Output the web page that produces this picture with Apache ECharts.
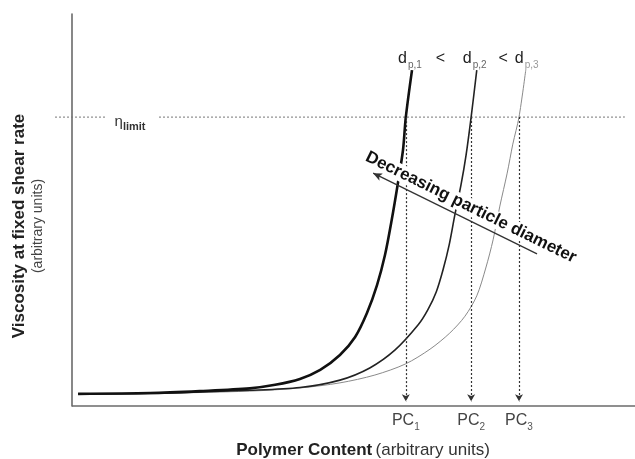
<!DOCTYPE html>
<html>
<head>
<meta charset="utf-8">
<script src="https://cdn.jsdelivr.net/npm/echarts@6/dist/echarts.min.js"></script>
<style>
  html, body { margin: 0; padding: 0; background: #fff; }
  #chart { width: 635px; height: 459px; }
</style>
</head>
<body>
<div id="chart"></div>
<script>
// Viscosity vs polymer content for three particle diameters (arbitrary units)
const curveLarge = [ // d_p,1
  [1.1, 3.1], [13.9, 3.3], [22.7, 3.8], [31.6, 4.5], [36.1, 5.4], [40.5, 6.9],
  [44.1, 9.2], [47.6, 13.0], [50.3, 17.6], [52.4, 23.7], [54.2, 30.9],
  [55.6, 38.5], [56.8, 47.5], [57.9, 56.9], [58.8, 65.3], [59.3, 73.7], [60.4, 85.7]
];
const curveMedium = [ // d_p,2
  [1.1, 3.1], [13.9, 3.2], [31.6, 4.0], [40.5, 4.7], [47.6, 6.6], [52.9, 9.7],
  [57.4, 14.3], [61.5, 20.7], [63.2, 24.5], [64.7, 29.1], [65.9, 34.7],
  [67.0, 41.1], [68.0, 48.7], [69.1, 56.4], [70.0, 64.0], [70.9, 73.7], [71.9, 85.7]
];
const curveSmall = [ // d_p,3
  [1.1, 3.1], [13.9, 3.2], [31.6, 3.8], [40.5, 4.6], [47.6, 5.9], [53.8, 7.9],
  [59.2, 10.7], [63.6, 14.5], [67.1, 18.6], [69.8, 22.9], [71.9, 28.1],
  [73.5, 35.2], [74.8, 42.4], [76.0, 51.0], [77.3, 59.4], [78.3, 66.8],
  [79.4, 73.7], [80.6, 85.7]
];
const limitValue = 73.7;
const limitSpan = [-3, 98.2];
const pcValues = [59.3, 70.9, 79.4];
const pcSubs = ['1', '2', '3'];
const curveSubs = ['p,1', 'p,2', 'p,3'];
const trendArrow = [[82.6, 38.8], [53.5, 59.4]];
const axisSpan = [0, 100];

const FONT = "'Liberation Sans', Arial, sans-serif";
const AXIS_COLOR = '#6a6a6a';

function curveSeries(data, width, color, sub, gap, labelOffset, subColor) {
  return {
    type: 'line',
    data: data,
    smooth: 0.3,
    showSymbol: false,
    silent: true,
    z: 3,
    lineStyle: { width: width, color: color },
    markPoint: {
      symbol: 'circle',
      symbolSize: 0,
      silent: true,
      data: [{ coord: data[data.length - 1] }],
      label: {
        show: true,
        position: 'top',
        distance: 3,
        align: 'left',
        offset: labelOffset,
        fontFamily: FONT,
        formatter: '{d|d}{s|' + sub + '}' + (gap ? '{lt|<}' : ''),
        rich: {
          d: { fontSize: 16, color: '#222', fontFamily: FONT, lineHeight: 18, verticalAlign: 'bottom' },
          s: { fontSize: 10, color: subColor, fontFamily: FONT, lineHeight: 10, verticalAlign: 'bottom', padding: [0, 0, -3, 1] },
          lt: { fontSize: 16, color: '#222', fontFamily: FONT, lineHeight: 18, verticalAlign: 'bottom', padding: [0, 0, 0, gap] }
        }
      }
    }
  };
}

const pcLines = pcValues.map(v => [
  { coord: [v, limitValue], symbol: 'none' },
  { coord: [v, 1.2], symbol: 'arrow', symbolSize: [6, 7] }
]);

const option = {
  animation: false,
  backgroundColor: '#fff',
  grid: { left: 55, right: 0, top: 14, bottom: 53, outerBoundsMode: 'none', containLabel: false },
  xAxis: {
    type: 'value',
    min: -3,
    max: 100,
    splitLine: { show: false },
    axisTick: { show: false },
    axisLine: { show: false },
    axisLabel: {
      customValues: pcValues,
      margin: 4,
      formatter: function (v) {
        const i = pcValues.indexOf(v);
        return i < 0 ? '' : '{p|PC}{s|' + pcSubs[i] + '}';
      },
      rich: {
        p: { fontSize: 16, color: '#444', fontFamily: FONT, lineHeight: 19, verticalAlign: 'bottom' },
        s: { fontSize: 10, color: '#555', fontFamily: FONT, lineHeight: 10, verticalAlign: 'bottom', padding: [0, 0, -3, 0] }
      }
    },
    name: '{b|Polymer Content} {r|(arbitrary units)}',
    nameLocation: 'middle',
    nameGap: 36,
    nameTextStyle: {
      padding: [0, 0, 0, 36],
      rich: {
        b: { fontSize: 17, fontWeight: 'bold', color: '#222', fontFamily: FONT },
        r: { fontSize: 17, color: '#333', fontFamily: FONT }
      }
    }
  },
  yAxis: {
    type: 'value',
    min: 0,
    max: 100,
    splitLine: { show: false },
    axisTick: { show: false },
    axisLabel: { show: false },
    axisLine: { onZero: true, lineStyle: { color: AXIS_COLOR, width: 1.6 } },
    name: '{a|Viscosity at fixed shear rate}\n{b|(arbitrary units)}',
    nameLocation: 'middle',
    nameRotate: 90,
    nameGap: 8,
    nameTextStyle: {
      padding: [0, 32, 0, 0],
      rich: {
        a: { fontSize: 17, fontWeight: 'bold', color: '#222', fontFamily: FONT, lineHeight: 20, align: 'center' },
        b: { fontSize: 14, color: '#444', fontFamily: FONT, lineHeight: 18, align: 'center' }
      }
    }
  },
  series: [
    curveSeries(curveSmall, 1, '#8a8a8a', curveSubs[2], 0, [-11, 0], '#999'),
    curveSeries(curveMedium, 1.6, '#222', curveSubs[1], 12, [-14, 0], '#666'),
    curveSeries(curveLarge, 2.6, '#111', curveSubs[0], 14, [-14, 0], '#666'),
    {
      // viscosity limit, x-axis baseline, PC markers and trend arrow
      type: 'line',
      data: limitSpan.map(x => [x, limitValue]),
      showSymbol: false,
      silent: true,
      z: 2,
      lineStyle: { width: 1, color: '#777', type: [2, 2] },
      markPoint: {
        silent: true,
        symbol: 'rect',
        symbolSize: [52, 6],
        itemStyle: { color: '#fff' },
        data: [{ coord: [10.5, limitValue] }],
        label: {
          show: true,
          position: 'inside',
          offset: [-1, 4],
          formatter: '{e|η}{l|limit}',
          rich: {
            e: { fontSize: 15, color: '#333', fontFamily: FONT, lineHeight: 16, verticalAlign: 'bottom' },
            l: { fontSize: 11, fontWeight: 'bold', color: '#333', fontFamily: FONT, lineHeight: 10, verticalAlign: 'bottom', padding: [0, 0, -3, 0] }
          }
        }
      },
      markLine: {
        silent: true,
        z: 6,
        symbol: ['none', 'arrow'],
        label: { show: false },
        lineStyle: { color: '#333', width: 1.2, type: [2, 2] },
        data: pcLines.concat([
          [
            { coord: [axisSpan[0], 0], symbol: 'none', lineStyle: { type: 'solid', width: 1.6, color: AXIS_COLOR } },
            { coord: [axisSpan[1], 0], symbol: 'none' }
          ],
          [
            {
              coord: trendArrow[0], symbol: 'none',
              lineStyle: { type: 'solid', width: 1.3, color: '#333' },
              label: {
                show: true,
                position: 'insideMiddleTop',
                distance: 4,
                formatter: 'Decreasing particle diameter',
                fontSize: 17,
                fontWeight: 'bold',
                color: '#111',
                fontFamily: FONT,
                backgroundColor: '#fff',
                padding: [0, 0, 0, 23]
              }
            },
            { coord: trendArrow[1], symbol: 'arrow', symbolSize: [6, 9] }
          ]
        ])
      }
    }
  ]
};

const chart = echarts.init(document.getElementById('chart'), null, { renderer: 'canvas' });
chart.setOption(option);
</script>
</body>
</html>
